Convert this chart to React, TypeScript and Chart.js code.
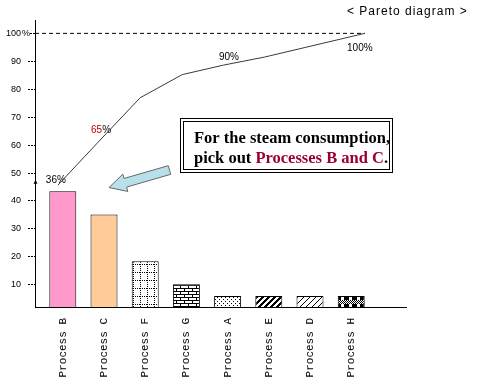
import React, { useEffect, useRef } from 'react';
import { Chart, registerables } from 'chart.js';

Chart.register(...registerables);

// ---- data ----
const processes = ['Process B', 'Process C', 'Process F', 'Process G', 'Process A', 'Process E', 'Process D', 'Process H'];
const consumption = [43.3, 35.0, 18.2, 9.9, 5.7, 5.7, 5.7, 5.7];
const cumulativePos = [-0.12, 0.88, 1.88, 2.9, 3.9, 4.9, 5.9, 7.33];
const cumulative = [45.5, 61.3, 76.9, 85.2, 88.6, 91.5, 95.0, 100];
const cumLabelIndex = [0, 1, 4, 7];
const cumLabelText = ['36', '65', '90', '100'];
const yTicks = [10, 20, 30, 40, 50, 60, 70, 80, 90, 100];
const titleText = '< Pareto diagram >';
const calloutLine1 = 'For the steam consumption,';
const calloutLine2a = 'pick out ';
const calloutLine2b = 'Processes B and C';
const calloutLine2c = '.';

function makePattern(w: number, h: number, fn: (x: number, y: number) => boolean): CanvasPattern | string {
  const c = document.createElement('canvas');
  c.width = w; c.height = h;
  const g = c.getContext('2d')!;
  g.fillStyle = '#fff';
  g.fillRect(0, 0, w, h);
  g.fillStyle = '#000';
  for (let y = 0; y < h; y++) for (let x = 0; x < w; x++) if (fn(x, y)) g.fillRect(x, y, 1, 1);
  return g.createPattern(c, 'repeat') || '#fff';
}

const labelOffsets = [[-2, -5], [2, -11], [5.5, -7.5], [-5, 15]];

const overlay = {
  id: 'overlay',
  afterDraw(chart: any) {
    const ctx: CanvasRenderingContext2D = chart.ctx;
    const ys = chart.scales.y;
    const xs = chart.scales.x;
    const area = chart.chartArea;
    ctx.save();
    // y axis
    ctx.strokeStyle = '#000';
    ctx.lineWidth = 1;
    ctx.beginPath();
    ctx.moveTo(area.left + 0.5, area.top);
    ctx.lineTo(area.left + 0.5, area.bottom + 0.5);
    ctx.stroke();
    // y ticks & labels
    ctx.font = '9px "Liberation Sans", Arial, sans-serif';
    ctx.fillStyle = '#000';
    ctx.textBaseline = 'middle';
    yTicks.forEach((v) => {
      const py = Math.round(ys.getPixelForValue(v)) + 0.5;
      ctx.setLineDash([2, 1]);
      ctx.beginPath();
      ctx.moveTo(v === 100 ? area.left - 5 : area.left - 7, py);
      ctx.lineTo(area.left, py);
      ctx.stroke();
      ctx.setLineDash([]);
      ctx.textAlign = 'right';
      ctx.fillText(String(v), area.left - 14, py);
      if (v === 100) {
        ctx.textAlign = 'left';
        ctx.fillText('%', area.left - 13, py);
      }
    });
    // small marker on the axis
    const ty = ys.getPixelForValue(46.5);
    ctx.beginPath();
    ctx.moveTo(area.left + 0.5, ty - 2.5);
    ctx.lineTo(area.left + 2.5, ty + 1.5);
    ctx.lineTo(area.left - 1.5, ty + 1.5);
    ctx.closePath();
    ctx.fill();
    // cumulative labels
    ctx.font = '10px "Liberation Sans", Arial, sans-serif';
    ctx.textBaseline = 'middle';
    ctx.textAlign = 'left';
    cumLabelIndex.forEach((idx, k) => {
      const px = xs.getPixelForValue(cumulativePos[idx]) + labelOffsets[k][0];
      const py = ys.getPixelForValue(cumulative[idx]) + labelOffsets[k][1];
      const num = cumLabelText[k];
      const wn = ctx.measureText(num).width;
      const wp = ctx.measureText('%').width;
      const sx = px - (wn + wp) / 2;
      ctx.fillStyle = k === 1 ? '#c00000' : '#000';
      ctx.fillText(num, sx, py);
      ctx.fillStyle = '#000';
      ctx.fillText('%', sx + wn, py);
    });
    // title
    ctx.font = '12px "Liberation Sans", Arial, sans-serif';
    (ctx as any).letterSpacing = '1px';
    ctx.textBaseline = 'alphabetic';
    ctx.fillStyle = '#000';
    ctx.fillText(titleText, 347, 15);
    (ctx as any).letterSpacing = '0px';
    // arrow
    const tip = [109, 187.5];
    const tail = [169.5, 170];
    const dx = tip[0] - tail[0], dy = tip[1] - tail[1];
    const L = Math.hypot(dx, dy);
    const ux = dx / L, uy = dy / L;
    const px = -uy, py = ux;
    const headLen = 17, headW = 9, shaftW = 4.5;
    const nx = tail[0] + ux * (L - headLen), ny = tail[1] + uy * (L - headLen);
    ctx.beginPath();
    ctx.moveTo(tail[0] + px * shaftW, tail[1] + py * shaftW);
    ctx.lineTo(nx + px * shaftW, ny + py * shaftW);
    ctx.lineTo(nx + px * headW, ny + py * headW);
    ctx.lineTo(tip[0], tip[1]);
    ctx.lineTo(nx - px * headW, ny - py * headW);
    ctx.lineTo(nx - px * shaftW, ny - py * shaftW);
    ctx.lineTo(tail[0] - px * shaftW, tail[1] - py * shaftW);
    ctx.closePath();
    ctx.fillStyle = '#b8e0e8';
    ctx.fill();
    ctx.strokeStyle = '#666';
    ctx.lineWidth = 1;
    ctx.stroke();
    // callout box
    ctx.fillStyle = '#fff';
    ctx.fillRect(181, 119, 211, 53);
    ctx.strokeStyle = '#000';
    ctx.strokeRect(180.5, 118.5, 212, 54);
    ctx.strokeRect(183.5, 121.5, 206, 48);
    ctx.font = 'bold 16.5px "Liberation Serif", "Times New Roman", serif';
    ctx.textAlign = 'left';
    ctx.textBaseline = 'alphabetic';
    ctx.fillStyle = '#000';
    ctx.fillText(calloutLine1, 194, 143);
    let cx = 194;
    ctx.fillText(calloutLine2a, cx, 163);
    cx += ctx.measureText(calloutLine2a).width;
    ctx.fillStyle = '#99003a';
    ctx.fillText(calloutLine2b, cx, 163);
    cx += ctx.measureText(calloutLine2b).width;
    ctx.fillStyle = '#000';
    ctx.fillText(calloutLine2c, cx, 163);
    ctx.restore();
  },
};

export default function App() {
  const ref = useRef<HTMLCanvasElement>(null);
  useEffect(() => {
    const canvas = ref.current!;
    const fills: (string | CanvasPattern)[] = [
      '#ff99cc',
      '#ffcc99',
      makePattern(7, 8, (x, y) => (x === 0 && y % 2 === 0) || (y === 0 && x % 2 === 0)),
      makePattern(8, 6, (x, y) => y === 0 || y === 3 || (x === 0 && y < 3) || (x === 4 && y > 3)),
      makePattern(4, 4, (x, y) => (x === 1 && y === 1) || (x === 3 && y === 3)),
      makePattern(6, 6, (x, y) => (x + y) % 6 < 3),
      makePattern(6, 6, (x, y) => (x + y) % 6 === 0),
      makePattern(8, 8, (x, y) => (y < 4 ? x % 8 < 5 : (x + y) % 2 === 0)),
    ];
    const chart = new Chart(canvas, {
      type: 'bar',
      data: {
        datasets: [
          {
            type: 'line',
            data: cumulativePos.map((x, i) => ({ x, y: cumulative[i] })),
            borderColor: '#3a3a3a',
            borderWidth: 1,
            pointRadius: 0,
            tension: 0,
            order: 0,
          } as any,
          {
            type: 'line',
            data: [{ x: -0.675, y: 100 }, { x: cumulativePos[cumulativePos.length - 1], y: 100 }],
            borderColor: '#000',
            borderWidth: 1,
            borderDash: [4, 3],
            pointRadius: 0,
            order: 0,
          } as any,
          {
            type: 'bar',
            data: processes.map((_, i) => ({ x: i, y: consumption[i] })),
            backgroundColor: fills,
            borderColor: '#000',
            borderWidth: 1,
            barPercentage: 0.655,
            categoryPercentage: 1,
            order: 1,
          } as any,
        ],
      },
      options: {
        animation: false,
        responsive: false,
        devicePixelRatio: 1,
        layout: { padding: { left: 35, right: 73, top: 20, bottom: 10 } },
        plugins: { legend: { display: false }, tooltip: { enabled: false }, title: { display: false } },
        scales: {
          x: {
            type: 'linear',
            bounds: 'data',
            offset: false,
            min: -0.675,
            max: 8.33,
            afterBuildTicks: (s: any) => {
              s.ticks = processes.map((_, i) => ({ value: i }));
            },
            afterFit: (s: any) => {
              s.height = 70;
            },
            ticks: {
              autoSkip: false,
              minRotation: 90,
              maxRotation: 90,
              padding: 11,
              color: '#000',
              font: { family: '"Liberation Mono", "Courier New", monospace', size: 11 },
              callback: (v: any) => processes[v] ?? '',
            },
            grid: { display: false, drawTicks: false },
            border: { display: true, color: '#000', width: 1 },
          },
          y: { display: false, min: 1.75, max: 104.8 },
        },
      } as any,
      plugins: [overlay],
    });
    return () => chart.destroy();
  }, []);
  return (
    <div style={{ position: 'absolute', left: 0, top: 0, width: 479, height: 387 }}>
      <canvas ref={ref} width={479} height={387} style={{ display: 'block' }} />
    </div>
  );
}
